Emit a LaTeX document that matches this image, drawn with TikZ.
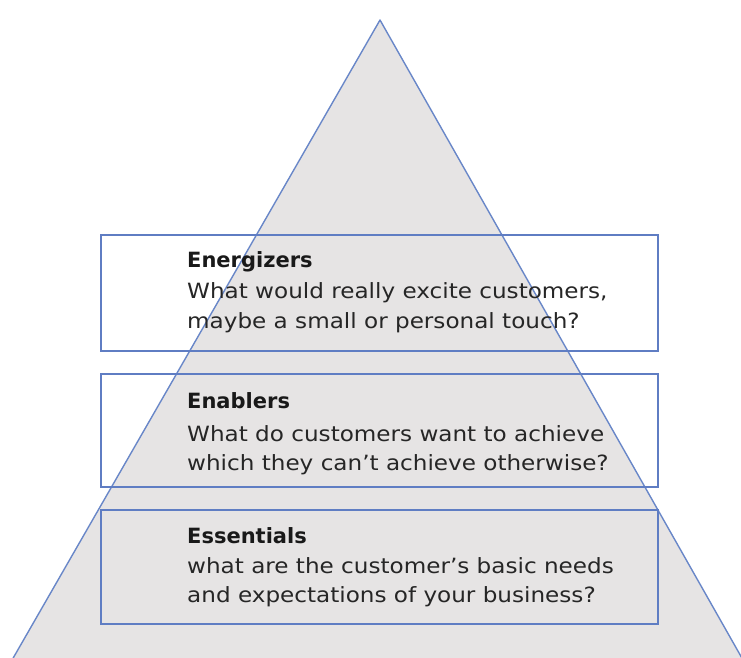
\documentclass[tikz,border=0pt]{standalone}
\usepackage{fontspec}
\setmainfont{DejaVu Sans}[FakeStretch=1.1]
\newfontfamily\titlefont{DejaVu Sans}
\definecolor{trifill}{RGB}{230,228,228}
\definecolor{edgeblue}{RGB}{105,135,200}
\definecolor{boxblue}{RGB}{95,125,195}
\definecolor{txt}{RGB}{38,38,38}
\begin{document}
\begin{tikzpicture}[x=1pt,y=-1pt,
  boxnode/.style={draw=boxblue, line width=1.3pt, inner sep=0pt, outer sep=0pt, minimum width=557pt},
  titletext/.style={anchor=base west, inner sep=0pt, text=black!90, font=\titlefont\fontsize{21}{25}\selectfont\bfseries},
  bodytext/.style={anchor=base west, inner sep=0pt, text=txt, font=\fontsize{21}{25}\selectfont}]
\useasboundingbox (0,0) rectangle (741,657);
\begin{scope}
  \clip (0,0) rectangle (741,657);
  \filldraw[fill=trifill, draw=edgeblue, line width=1.4pt, line join=round]
    (380,20) -- (8,667) -- (747,667) -- cycle;
\end{scope}
\node[boxnode, minimum height=116pt] (energ) at (379.5,293) {};
\node[boxnode, minimum height=113pt] (enabl) at (379.5,430.5) {};
\node[boxnode, minimum height=114pt] (essen) at (379.5,567) {};
\node[titletext] (t1) at (187,267) {Energizers};
\node[bodytext] (l11) at (187,298) {What would really excite customers,};
\node[bodytext] (l12) at (187,328) {maybe a small or personal touch?};
\node[titletext] (t2) at (187,408) {Enablers};
\node[bodytext] (l21) at (187,441) {What do customers want to achieve};
\node[bodytext] (l22) at (187,470) {which they can’t achieve otherwise?};
\node[titletext] (t3) at (187,543) {Essentials};
\node[bodytext] (l31) at (187,573) {what are the customer’s basic needs};
\node[bodytext] (l32) at (187,602) {and expectations of your business?};
\end{tikzpicture}
\end{document}
